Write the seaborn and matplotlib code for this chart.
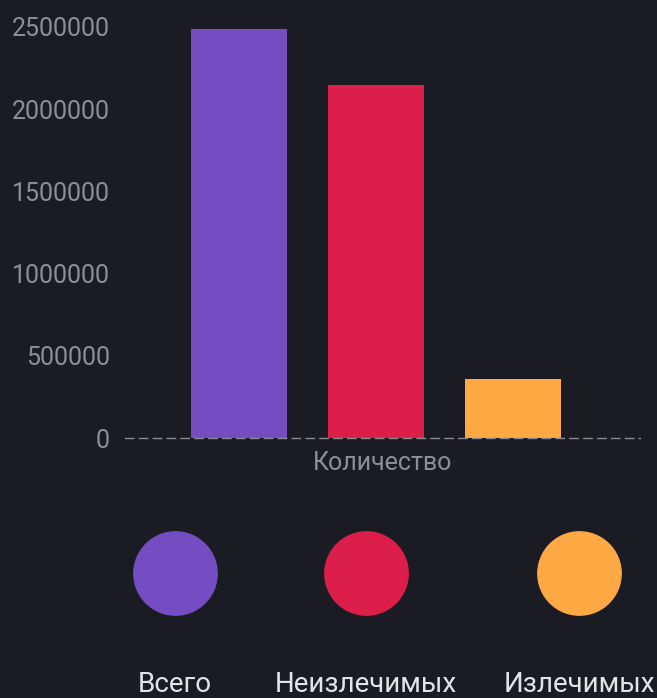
import pandas as pd
import matplotlib
matplotlib.use('Agg')
import matplotlib.pyplot as plt
import seaborn as sns
from matplotlib.ticker import FuncFormatter

# data
category = ['Количество']
groups = ['Всего', 'Неизлечимых', 'Излечимых']
values = [2490000, 2147000, 358000]
colors = ['#764cc2', '#dc1f4a', '#ffa945']

bg = '#1b1b23'
tick_color = '#8e8e94'
label_color = '#e4e4e8'

df = pd.DataFrame({
    'category': category * len(groups),
    'group': groups,
    'value': values,
})

sns.set_theme(style='dark')
plt.rcParams['font.family'] = ['Roboto', 'DejaVu Sans']

fig = plt.figure(figsize=(6.57, 6.98), dpi=100, facecolor=bg)
ax = fig.add_axes([125 / 657, 1 - 438 / 698, 515 / 657, 411 / 698])
ax.set_facecolor(bg)

sns.barplot(data=df, x='category', y='value', hue='group', hue_order=groups,
            palette=colors, width=0.8, gap=0.3, saturation=1, legend=False,
            edgecolor='none', ax=ax)

ax.set_xlim(-0.4874, 0.5126)
ax.set_ylim(0, 2500000)
ax.set_yticks([0, 500000, 1000000, 1500000, 2000000, 2500000])
ax.yaxis.set_major_formatter(FuncFormatter(lambda v, p: f'{int(v)}'))
ax.tick_params(axis='y', length=0, pad=11, labelsize=18, labelcolor=tick_color)
ax.set_xticks([])
ax.set_ylabel('')
ax.set_xlabel('Количество', fontsize=18, color=tick_color, labelpad=9)
ax.grid(False)

for s in ['left', 'top', 'right']:
    ax.spines[s].set_visible(False)
ax.spines['bottom'].set_color('#8a8a90')
ax.spines['bottom'].set_linewidth(1.0)
ax.spines['bottom'].set_linestyle((0, (6, 4)))

# legend: circles with labels underneath
lax = fig.add_axes([0, 0, 1, 1], facecolor='none')
lax.set_xlim(0, 657)
lax.set_ylim(0, 698)
lax.axis('off')
legend_x = [175, 366, 579]
for name, col, lx in zip(groups, colors, legend_x):
    lax.plot([lx], [125], marker='o', markersize=60, color=col, linestyle='none')
    lax.text(lx, 27, name, ha='center', va='top', fontsize=20, color=label_color)

fig.savefig('out.png', dpi=100, facecolor=bg)
